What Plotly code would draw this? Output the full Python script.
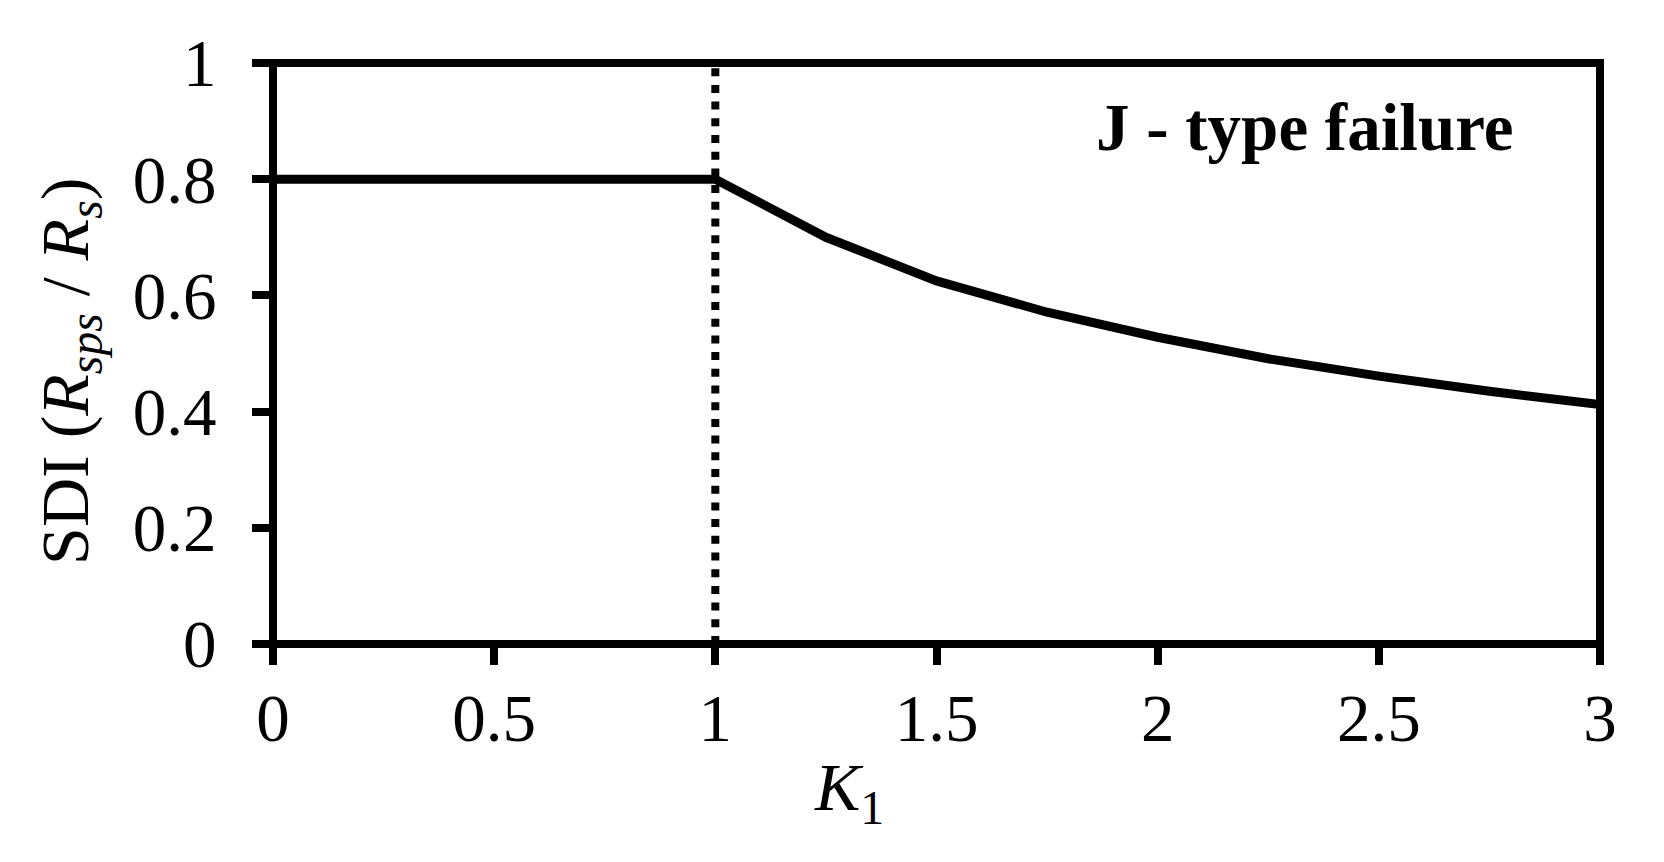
import plotly.graph_objects as go

# Data
k_flat = [0, 0.25, 0.5, 0.75, 1.0]
sdi_flat = [0.8, 0.8, 0.8, 0.8, 0.8]
k_curve = [1.0, 1.25, 1.5, 1.75, 2.0, 2.25, 2.5, 2.75, 3.0]
sdi_curve = [0.8, 0.70, 0.625, 0.571, 0.528, 0.491, 0.461, 0.435, 0.412]
k_limit = [1.0, 1.0]
sdi_limit = [0.0, 1.0]

x_ticks = [0, 0.5, 1, 1.5, 2, 2.5, 3]
x_ticktext = ["0", "0.5", "1", "1.5", "2", "2.5", "3"]
y_ticks = [0, 0.2, 0.4, 0.6, 0.8, 1.0]
y_ticktext = ["0", "0.2", "0.4", "0.6", "0.8", "1"]

FONT = "Liberation Serif, Times New Roman, serif"

fig = go.Figure()
fig.add_trace(go.Scatter(x=k_limit, y=sdi_limit, mode="lines",
                         line=dict(color="black", width=8, dash="8px,8.7px"),
                         showlegend=False, hoverinfo="skip"))
fig.add_trace(go.Scatter(x=k_flat + k_curve[1:], y=sdi_flat + sdi_curve[1:], mode="lines",
                         line=dict(color="black", width=9),
                         showlegend=False, cliponaxis=False))

axis_common = dict(showline=False, ticks="outside", ticklen=20, tickwidth=8, tickcolor="black",
                   showgrid=False, zeroline=False,
                   tickfont=dict(family=FONT, size=67, color="black"))

fig.update_xaxes(range=[0, 3], tickmode="array", tickvals=x_ticks, ticktext=x_ticktext,
                 ticklabelstandoff=-4, **axis_common)
fig.update_yaxes(range=[0, 1], tickmode="array", tickvals=y_ticks, ticktext=y_ticktext,
                 ticklabelstandoff=22, **axis_common)

# plot frame
fig.add_shape(type="rect", xref="paper", yref="paper", x0=0, x1=1, y0=0, y1=1,
              line=dict(color="black", width=8), fillcolor="rgba(0,0,0,0)", layer="above")

fig.add_annotation(text="<b>J - type failure</b>", xref="paper", yref="paper",
                   x=0.6184, y=0.8899, xanchor="left", yanchor="middle", showarrow=False,
                   font=dict(family=FONT, size=67, color="black"))
fig.add_annotation(text="<i>K</i><sub>1</sub>", xref="paper", yref="paper",
                   x=0.434, y=-0.2547, xanchor="center", yanchor="middle", showarrow=False,
                   font=dict(family=FONT, size=68, color="black"))
fig.add_annotation(text="SDI (<i>R</i><sub><i>sps</i></sub> / <i>R</i><sub><i>s</i></sub>)",
                   xref="paper", yref="paper", x=-0.153, y=0.470, textangle=-90,
                   xanchor="center", yanchor="middle", showarrow=False,
                   font=dict(family=FONT, size=68, color="black"))

# margins compensate for the 8px default page margin of the html body
fig.update_layout(width=1664, height=862, paper_bgcolor="white", plot_bgcolor="white",
                  margin=dict(l=265, r=72, t=55, b=226), showlegend=False)

fig.write_html("out.html")
